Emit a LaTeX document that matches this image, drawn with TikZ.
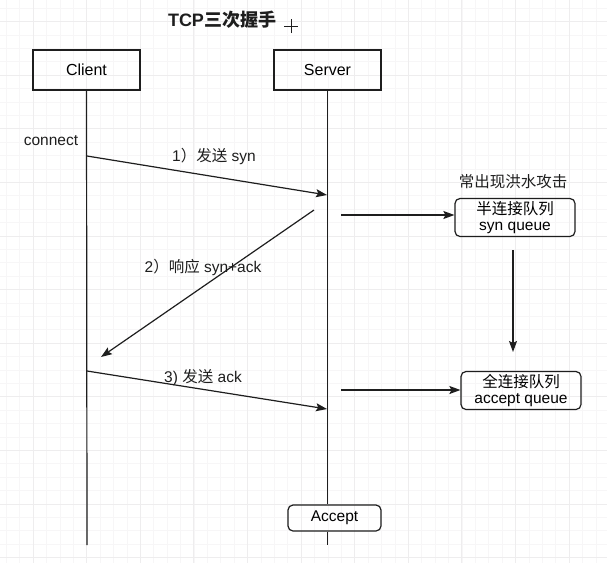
\documentclass[tikz,border=0pt]{standalone}
\usepackage{fontspec}
\setmainfont{Liberation Sans}
\newfontfamily\cjk{Noto Sans CJK SC}
\newcommand\zh[1]{{\cjk #1}}
\usetikzlibrary{arrows.meta}
\definecolor{gridminor}{HTML}{F7F6F7}
\definecolor{gridmajor}{HTML}{EEEDEE}
\definecolor{ink}{HTML}{1E1E1E}
\tikzset{
  actor/.style={draw=ink, line width=1.2pt, minimum width=107pt, minimum height=40pt, inner sep=0pt, font=\fontsize{16}{19}\selectfont},
  queuebox/.style={draw=ink, line width=1.2pt, rounded corners=5pt, minimum width=120pt, minimum height=38pt, inner sep=0pt, align=center, font=\fontsize{15.5}{18}\selectfont},
  life/.style={draw=ink, line width=1.2pt},
  msg/.style={draw=ink, line width=1.2pt, -{Stealth[length=11pt,width=8pt,inset=2pt]}},
  lbl/.style={font=\fontsize{15.5}{18}\selectfont, text=ink, inner sep=0pt},
}
\begin{document}
\begin{tikzpicture}[x=1pt,y=-1pt]
\useasboundingbox (0,0) rectangle (607,563);
\fill[white] (0,0) rectangle (607,563);
% grid
\foreach \i in {-2,...,43} {
  \pgfmathsetmacro\gx{33+13.4*\i}
  \draw[gridminor, line width=0.6pt] (\gx,0) -- (\gx,563);
}
\foreach \i in {-1,...,41} {
  \pgfmathsetmacro\gy{21.5+13.4*\i}
  \draw[gridminor, line width=0.6pt] (0,\gy) -- (607,\gy);
}
\foreach \i in {0,...,11} {
  \pgfmathsetmacro\gx{33+53.6*\i}
  \draw[gridmajor, line width=0.8pt] (\gx,0) -- (\gx,563);
}
\foreach \i in {0,...,10} {
  \pgfmathsetmacro\gy{21.5+53.6*\i}
  \draw[gridmajor, line width=0.8pt] (0,\gy) -- (607,\gy);
}
% title
\node[font=\bfseries\fontsize{18}{21}\selectfont, text=ink, inner sep=0pt] (title) at (222,20) {TCP\zh{\bfseries 三次握手}};
\coordinate (cx) at (291,26);
\draw[ink, line width=0.8pt] ([xshift=-7pt]cx) -- ([xshift=7pt]cx);
\draw[ink, line width=0.8pt] ([yshift=-7pt]cx) -- ([yshift=7pt]cx);
% actors
\node[actor] (client) at (86.5,70) {Client};
\node[actor] (server) at (327.5,70) {Server};
\node[queuebox, minimum width=93pt, minimum height=26pt] (accept) at (334.5,518) {Accept};
\coordinate (cend) at (87,545);
\coordinate (send) at (327.5,545);
\draw[life] (client.south) -- (cend);
\draw[life] (server.south) -- (server.south |- accept.north);
\draw[life] (server.south |- accept.south) -- (send);
% messages
\node[lbl] (connect) at (51,141) {connect};
\coordinate (c1) at (87,156);
\coordinate (s1) at (327,195);
\coordinate (s2) at (314,210);
\coordinate (c2) at (101,357);
\coordinate (c3) at (87,371);
\coordinate (s3) at (327,409);
\draw[msg] (c1) -- (s1);
\draw[msg] (s2) -- (c2);
\draw[msg] (c3) -- (s3);
\node[lbl] (m1) at (214,156) {1\zh{）发送} syn};
\node[lbl] (m2) at (203,267) {2\zh{）响应} syn+ack};
\node[lbl] (m3) at (203,378) {3) \zh{发送} ack};
% queues
\node[queuebox] (synq) at (515,217.5) {\zh{半连接队列}\\[-2pt]syn queue};
\node[queuebox] (accq) at (521,390.5) {\zh{全连接队列}\\[-2pt]accept queue};
\node[lbl] (flood) at (513,182) {\zh{常出现洪水攻击}};
\coordinate (q1) at (341,215);
\coordinate (q2) at (341,390);
\draw[msg] (q1) -- (q1 -| synq.west);
\draw[msg] (q2) -- (q2 -| accq.west);
\coordinate (d1) at (513,250);
\coordinate (d2) at (513,352);
\draw[msg] (d1) -- (d2);
\end{tikzpicture}
\end{document}
